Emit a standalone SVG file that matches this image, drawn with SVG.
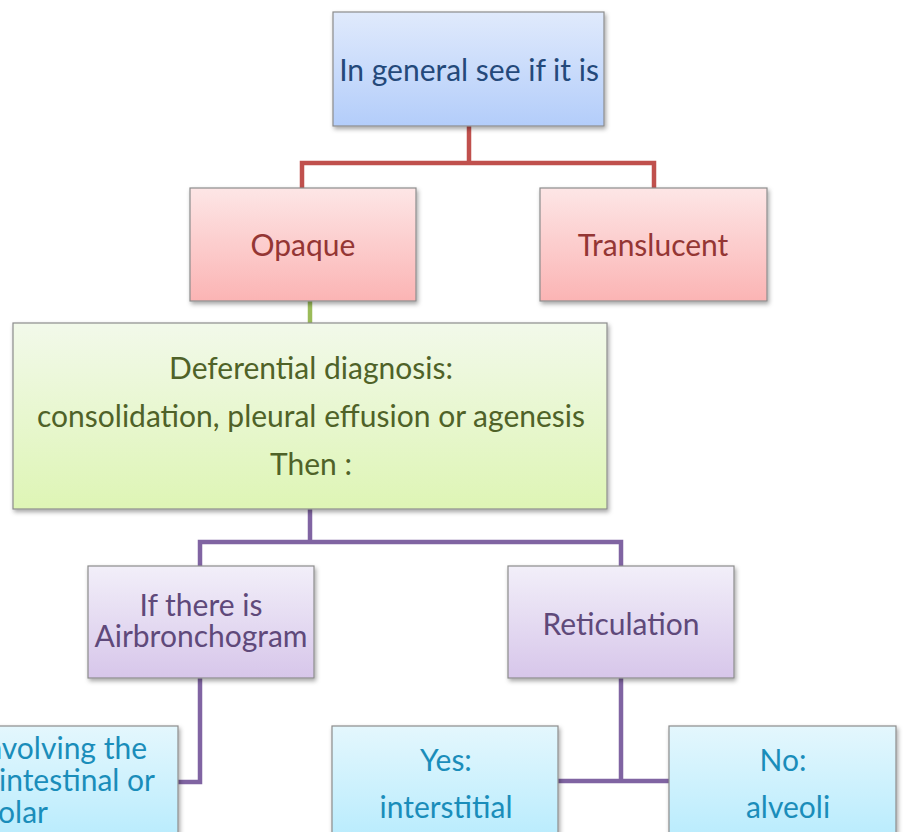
<svg xmlns="http://www.w3.org/2000/svg" width="904" height="832" viewBox="0 0 904 832">
<defs>
<linearGradient id="gBlue" x1="0" y1="0" x2="0" y2="1"><stop offset="0" stop-color="#e0eafc"/><stop offset="1" stop-color="#b3cdfa"/></linearGradient>
<linearGradient id="gRed" x1="0" y1="0" x2="0" y2="1"><stop offset="0" stop-color="#fde6e6"/><stop offset="1" stop-color="#fbb4b4"/></linearGradient>
<linearGradient id="gGreen" x1="0" y1="0" x2="0" y2="1"><stop offset="0" stop-color="#f2f9ea"/><stop offset="1" stop-color="#def5b5"/></linearGradient>
<linearGradient id="gPurple" x1="0" y1="0" x2="0" y2="1"><stop offset="0" stop-color="#f2eff9"/><stop offset="1" stop-color="#d7c6ea"/></linearGradient>
<linearGradient id="gCyan" x1="0" y1="0" x2="0" y2="1"><stop offset="0" stop-color="#e4f7fd"/><stop offset="1" stop-color="#b2eafd"/></linearGradient>
<filter id="sh" x="-10%" y="-10%" width="120%" height="130%"><feDropShadow dx="1.5" dy="2.5" stdDeviation="2" flood-color="#000" flood-opacity="0.35"/></filter>
</defs>
<style>
.box{stroke:#8c8c8c;stroke-width:1.2;filter:url(#sh)}
text{font-family:Lato,"Liberation Sans",sans-serif;text-anchor:middle;font-size:30px}
.t1{fill:#24497a}
.t2{fill:#943634}
.t3{fill:#4f6228}
.t4{fill:#5f497a}
.t5{fill:#1a8dba}
.c{fill:none;stroke-width:4.5}
</style>
<g id="connectors">
<path class="c" stroke="#c0504d" d="M469 126 V163 M302 188 V163 H654 V188"/>
<path class="c" stroke="#9bbb59" d="M310 301 V323"/>
<path class="c" stroke="#8064a2" d="M310 509 V542 M200 567 V542 H621 V567"/>
<path class="c" stroke="#8064a2" d="M200 678 V782 H178"/>
<path class="c" stroke="#8064a2" d="M621 678 V781 M558 781 H669"/>
</g>
<g id="n-general"><rect class="box" x="333" y="12" width="271" height="114" fill="url(#gBlue)"/><text class="t1" x="469" y="81">In general see if it is</text></g>
<g id="n-opaque"><rect class="box" x="190" y="188" width="226" height="113" fill="url(#gRed)"/><text class="t2" x="303" y="256">Opaque</text></g>
<g id="n-translucent"><rect class="box" x="540" y="188" width="227" height="113" fill="url(#gRed)"/><text class="t2" x="653" y="256">Translucent</text></g>
<g id="n-dd"><rect class="box" x="13" y="323" width="594" height="186" fill="url(#gGreen)"/>
<text class="t3" x="311" y="379">Deferential diagnosis:</text>
<text class="t3" x="311" y="427">consolidation, pleural effusion or agenesis</text>
<text class="t3" x="311" y="475">Then :</text></g>
<g id="n-air"><rect class="box" x="88" y="566" width="226" height="112" fill="url(#gPurple)"/>
<text class="t4" x="201" y="616">If there is</text><text class="t4" x="201" y="647">Airbronchogram</text></g>
<g id="n-ret"><rect class="box" x="508" y="566" width="226" height="112" fill="url(#gPurple)"/>
<text class="t4" x="621" y="635">Reticulation</text></g>
<g id="n-involving"><rect class="box" x="-48" y="726" width="226" height="130" fill="url(#gCyan)"/>
<text class="t5" x="147" y="759" style="text-anchor:end">nvolving the</text>
<text class="t5" x="155" y="791" style="text-anchor:end">intestinal or</text>
<text class="t5" x="48" y="823" style="text-anchor:end">olar</text></g>
<g id="n-yes"><rect class="box" x="332" y="726" width="226" height="130" fill="url(#gCyan)"/>
<text class="t5" x="446" y="771">Yes:</text><text class="t5" x="446" y="818">interstitial</text></g>
<g id="n-no"><rect class="box" x="669" y="726" width="227" height="130" fill="url(#gCyan)"/>
<text class="t5" x="783" y="771">No:</text><text class="t5" x="788" y="818">alveoli</text></g>
</svg>
